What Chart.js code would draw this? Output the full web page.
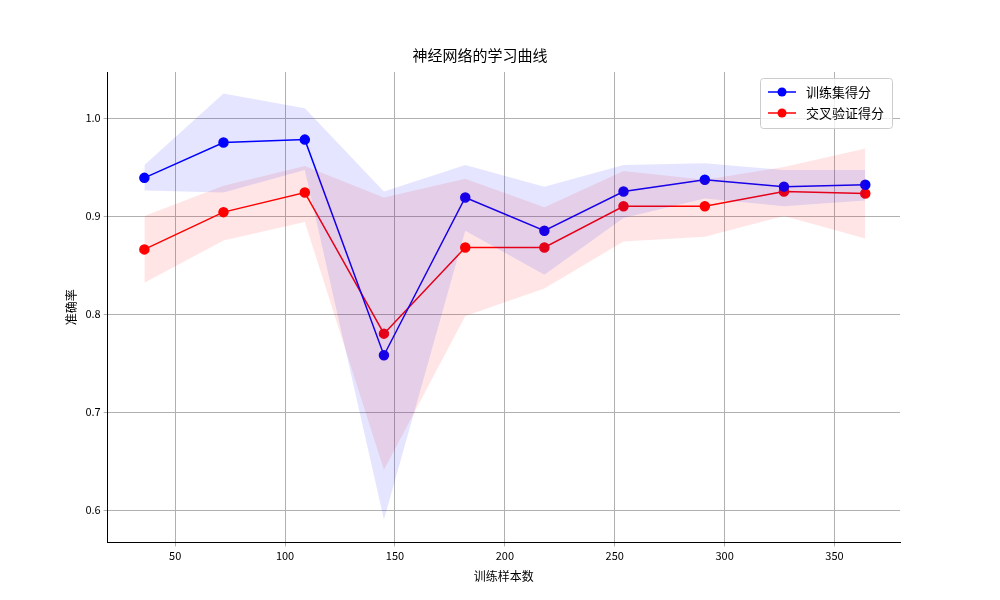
<!DOCTYPE html>
<html>
<head>
<meta charset="utf-8">
<script src="https://cdn.jsdelivr.net/npm/chart.js@4"></script>
<style>body{margin:0;background:#fff}#wrap{width:1000px;height:600px}</style>
</head>
<body>
<div id="wrap"><canvas id="lc"></canvas></div>
<script>
var sizes = [36, 72, 109, 145, 182, 218, 254, 291, 327, 364];
var trainMean = [0.939, 0.975, 0.978, 0.758, 0.919, 0.885, 0.925, 0.937, 0.930, 0.932];
var trainUpper = [0.952, 1.025, 1.010, 0.925, 0.952, 0.930, 0.952, 0.954, 0.947, 0.947];
var trainLower = [0.926, 0.924, 0.947, 0.590, 0.885, 0.840, 0.898, 0.918, 0.910, 0.916];
var valMean = [0.866, 0.904, 0.924, 0.780, 0.868, 0.868, 0.910, 0.910, 0.925, 0.923];
var valUpper = [0.900, 0.931, 0.951, 0.919, 0.938, 0.909, 0.946, 0.937, 0.950, 0.969];
var valLower = [0.832, 0.875, 0.894, 0.641, 0.798, 0.826, 0.874, 0.879, 0.900, 0.877];

function pts(ys) { return sizes.map(function (x, i) { return {x: x, y: ys[i]}; }); }
var FONT = "'Noto Sans CJK SC', 'DejaVu Sans', sans-serif";

function band(ys, fill) {
  return {data: pts(ys), borderWidth: 0, pointRadius: 0, fill: fill,
    backgroundColor: 'transparent', band: true};
}

var legendBox = {
  id: 'legendBox',
  afterDraw: function (chart) {
    var c = chart.ctx, a = chart.chartArea;
    var w = 132, h = 50, x = a.right - w - 8, y = a.top + 6;
    c.save();
    c.fillStyle = 'rgba(255,255,255,0.8)';
    c.strokeStyle = '#ccc';
    c.lineWidth = 1;
    c.beginPath(); c.roundRect(x + 0.5, y + 0.5, w, h, 3); c.fill(); c.stroke();
    [['训练集得分', 'blue'], ['交叉验证得分', 'red']].forEach(function (it, i) {
      var yy = y + 14 + i * 21;
      c.strokeStyle = it[1]; c.fillStyle = it[1]; c.lineWidth = 1.5;
      c.beginPath(); c.moveTo(x + 8, yy); c.lineTo(x + 36, yy); c.stroke();
      c.beginPath(); c.arc(x + 22, yy, 4.5, 0, Math.PI * 2); c.fill();
      c.fillStyle = '#000'; c.font = '13px ' + FONT; c.textBaseline = 'middle';
      c.fillText(it[0], x + 46, yy);
    });
    c.restore();
  }
};

new Chart(document.getElementById('lc'), {
  type: 'line',
  data: {
    datasets: [
      band(trainUpper, false),
      Object.assign(band(trainLower, '-1'), {backgroundColor: 'rgba(0,0,255,0.1)'}),
      band(valUpper, false),
      Object.assign(band(valLower, '-1'), {backgroundColor: 'rgba(255,0,0,0.1)'}),
      {label: '训练集得分', data: pts(trainMean), borderColor: 'blue', backgroundColor: 'blue',
        borderWidth: 1.5, pointRadius: 4.5, pointHoverRadius: 4.5, fill: false},
      {label: '交叉验证得分', data: pts(valMean), borderColor: 'red', backgroundColor: 'red',
        borderWidth: 1.5, pointRadius: 4.5, pointHoverRadius: 4.5, fill: false}
    ]
  },
  options: {
    responsive: true,
    maintainAspectRatio: false,
    animation: false,
    layout: {padding: {left: 60, right: 100, top: 10, bottom: 12}},
    plugins: {
      legend: {display: false},
      tooltip: {enabled: false},
      title: {display: true, text: '神经网络的学习曲线', color: '#000',
        font: {family: FONT, size: 15, weight: 'normal'}, padding: {top: 36, bottom: 8}}
    },
    scales: {
      x: {type: 'linear', min: 19.3, max: 379.8,
        afterBuildTicks: function (s) { s.ticks = [50, 100, 150, 200, 250, 300, 350].map(function (v) { return {value: v}; }); },
        grid: {color: '#b0b0b0', drawTicks: true, tickLength: 4},
        border: {color: '#000'},
        ticks: {color: '#000', font: {family: FONT, size: 11}},
        title: {display: true, text: '训练样本数', color: '#000', font: {family: FONT, size: 12}}},
      y: {min: 0.567, max: 1.047,
        afterBuildTicks: function (s) { s.ticks = [0.6, 0.7, 0.8, 0.9, 1.0].map(function (v) { return {value: v}; }); },
        grid: {color: '#b0b0b0', tickLength: 4},
        border: {color: '#000'},
        ticks: {color: '#000', font: {family: FONT, size: 11}, callback: function (v) { return v.toFixed(1); }},
        title: {display: true, text: '准确率', color: '#000', font: {family: FONT, size: 12}}}
    }
  },
  plugins: [legendBox]
});
</script>
</body>
</html>
